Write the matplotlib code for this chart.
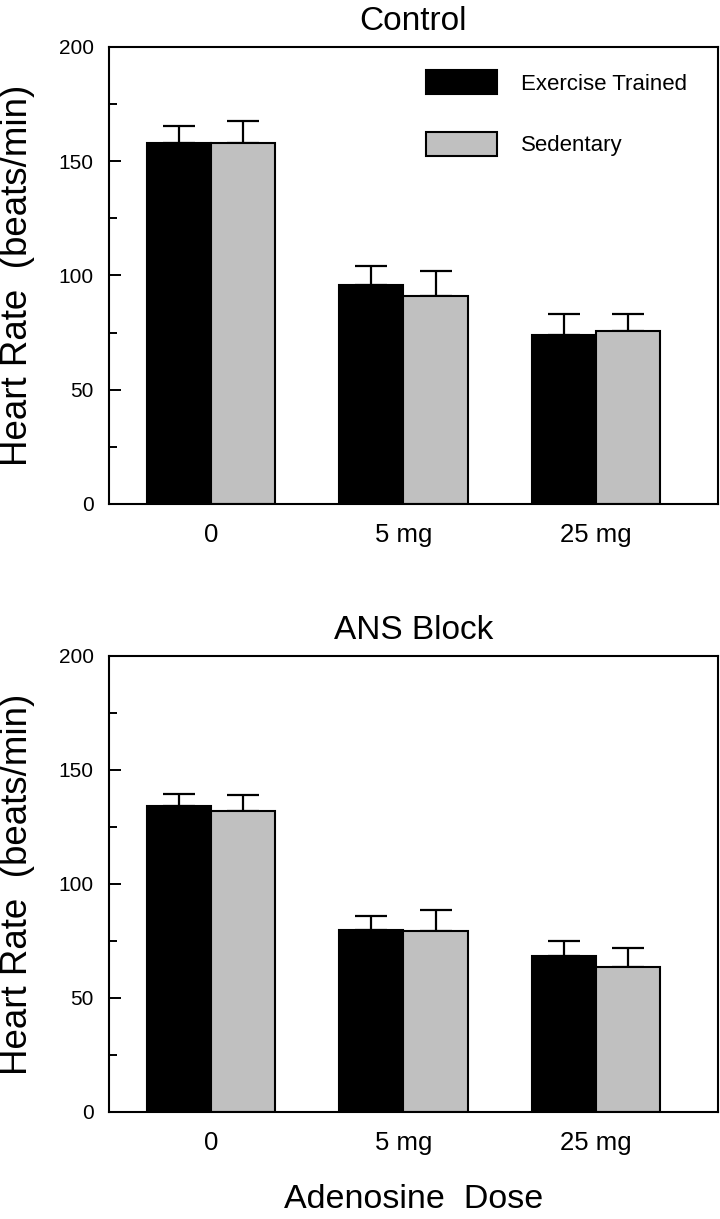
import numpy as np
import matplotlib
matplotlib.use("Agg")
import matplotlib.pyplot as plt
from matplotlib.ticker import MultipleLocator

plt.rcParams['font.family'] = ['Liberation Sans', 'DejaVu Sans']

# data
doses = ["0", "5 mg", "25 mg"]
series = ["Exercise Trained", "Sedentary"]
colors = ["black", "#c0c0c0"]

control_trained = [158, 96, 74]
control_trained_err = [7.5, 8, 9]
control_sedentary = [158, 91, 75.5]
control_sedentary_err = [9.5, 11, 7.5]

ans_trained = [134, 80, 68.5]
ans_trained_err = [5.5, 6, 6.5]
ans_sedentary = [132, 79.5, 63.5]
ans_sedentary_err = [7, 9, 8.5]

panels = [
    ("Control", [control_trained, control_sedentary],
     [control_trained_err, control_sedentary_err]),
    ("ANS Block", [ans_trained, ans_sedentary],
     [ans_trained_err, ans_sedentary_err]),
]

fig = plt.figure(figsize=(7.2, 12.19), dpi=100)
ax_top = fig.add_axes([0.1514, 0.5866, 0.8458, 0.3749])
ax_bot = fig.add_axes([0.1514, 0.0878, 0.8458, 0.3741])

x = np.arange(len(doses))
width = 0.333

for ax, (title, vals, errs) in zip([ax_top, ax_bot], panels):
    for i in range(len(series)):
        pos = x + (i - 0.5) * width
        ax.bar(pos, vals[i], width, color=colors[i], edgecolor="black",
               linewidth=1.5, label=series[i], zorder=2)
        ax.errorbar(pos, vals[i], yerr=[np.zeros(len(errs[i])), errs[i]],
                    fmt="none", ecolor="black", elinewidth=1.6,
                    capsize=11.5, capthick=1.6, zorder=1)
    ax.set_xlim(-0.53, 2.634)
    ax.set_ylim(0, 200)
    ax.set_xticks(x)
    ax.set_xticklabels(doses)
    ax.yaxis.set_major_locator(MultipleLocator(50))
    ax.yaxis.set_minor_locator(MultipleLocator(25))
    ax.tick_params(axis="y", which="major", direction="in", length=8.6,
                   width=1.4, labelsize=15, pad=11)
    ax.tick_params(axis="y", which="minor", direction="in", length=5.8,
                   width=1.4)
    ax.tick_params(axis="x", length=0, labelsize=18.5, pad=14)
    for sp in ax.spines.values():
        sp.set_linewidth(1.5)
    ax.set_title(title, fontsize=24, pad=12)
    ax.set_ylabel("Heart Rate  (beats/min)", fontsize=26.5)
    ax.yaxis.set_label_coords(-0.122, 0.5)

ax_bot.set_xlabel("Adenosine  Dose", fontsize=24.5)
ax_bot.xaxis.set_label_coords(0.5, -0.158)

ax_top.legend(loc="upper left", bbox_to_anchor=(0.52, 0.949), frameon=False,
              fontsize=16, handlelength=3.2, handleheight=1.3,
              handletextpad=1.08, labelspacing=1.67, borderpad=0,
              borderaxespad=0)

plt.savefig("out.png", dpi=100)
